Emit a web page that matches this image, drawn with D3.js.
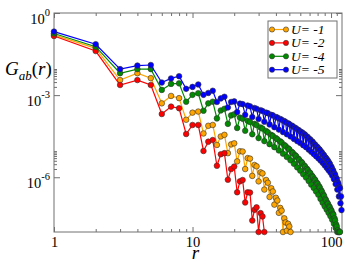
<!DOCTYPE html>
<html>
<head>
<meta charset="utf-8">
<script src="https://cdn.jsdelivr.net/npm/d3@7"></script>
<style>
    body { margin: 0; background: #fff; }
    svg { display: block; }
    svg text { font-family: "Liberation Serif", "Times New Roman", "DejaVu Serif", serif; }
    .axis path { display: none; }
    .axis line { stroke: #707070; }
    .axis text { font-family: "Liberation Serif", "Times New Roman", "DejaVu Serif", serif; font-size: 14.5px; fill: #000; }
</style>
</head>
<body>
<div class="chart"></div>
<script>
var SERIF = '"Liberation Serif", "Times New Roman", "DejaVu Serif", serif';

// legend / series
var seriesLabels = ["U= -1", "U= -2", "U= -4", "U= -5"];
var seriesColors = ["#ffa500", "#ff0000", "#008b00", "#0000ff"];

// log10 G_ab(r), starting at r = 1
var logG_U1 = [
    -0.80, -1.29, -2.45, -2.20, -2.38, -3.30, -3.03, -3.11, -3.90, -3.64,
    -3.60, -4.40, -4.12, -4.09, -4.82, -4.51, -4.45, -5.12, -4.80, -4.76,
    -5.42, -5.05, -5.06, -5.70, -5.30, -5.32, -5.95, -5.55, -5.60, -6.15,
    -5.82, -5.86, -6.45, -6.10, -6.20, -6.72, -6.40, -6.52, -7.00, -6.75,
    -6.85, -7.30, -7.12, -7.22, -8.00, -7.50, -7.65, -7.95, -7.70, -7.80,
    -8.00
];
var logG_U2 = [
    -0.84, -1.39, -2.63, -2.45, -2.63, -3.69, -3.42, -3.48, -4.42, -4.09,
    -4.09, -5.04, -4.70, -4.64, -5.58, -5.16, -5.12, -6.09, -5.70, -5.61,
    -6.55, -6.15, -6.10, -6.92, -6.55, -6.56, -7.58, -7.19, -7.10, -8.00,
    -7.31, -7.43, -8.00
];
var logG_U4 = [
    -0.75, -1.23, -2.20, -2.05, -2.05, -2.81, -2.59, -2.57, -3.24, -2.99,
    -2.93, -3.57, -3.30, -3.24, -3.85, -3.56, -3.50, -4.05, -3.74, -3.70,
    -4.20, -3.82, -3.86, -4.30, -3.94, -3.98, -4.43, -4.05, -4.09, -4.57,
    -4.18, -4.22, -4.68, -4.31, -4.36, -4.79, -4.45, -4.49, -4.90, -4.57,
    -4.61, -5.02, -4.69, -4.73, -5.14, -4.82, -4.86, -5.26, -4.94, -4.98,
    -5.38, -5.07, -5.11, -5.51, -5.19, -5.23, -5.64, -5.32, -5.36, -5.76,
    -5.44, -5.48, -5.89, -5.57, -5.61, -6.01, -5.69, -5.74, -6.14, -5.82,
    -5.86, -6.27, -5.95, -5.99, -6.39, -6.07, -6.11, -6.52, -6.20, -6.24,
    -6.64, -6.33, -6.38, -6.79, -6.48, -6.53, -6.93, -6.63, -6.68, -7.06,
    -6.79, -6.84, -7.18, -6.93, -6.97, -7.30, -7.06, -7.10, -7.42, -7.19,
    -7.24, -7.55, -7.33, -7.37, -7.70, -7.50, -7.58, -7.85, -7.73, -7.80,
    -8.00, -7.93, -8.00, -8.00, -8.00, -8.00
];
var logG_U5 = [
    -0.68, -1.14, -2.05, -1.92, -1.90, -2.54, -2.39, -2.31, -2.77, -2.70,
    -2.61, -2.99, -2.92, -2.84, -3.25, -3.12, -3.06, -3.45, -3.25, -3.23,
    -3.62, -3.31, -3.33, -3.72, -3.38, -3.41, -3.80, -3.47, -3.50, -3.87,
    -3.55, -3.58, -3.97, -3.64, -3.66, -4.07, -3.72, -3.74, -4.17, -3.80,
    -3.82, -4.26, -3.87, -3.90, -4.35, -3.95, -3.98, -4.43, -4.03, -4.06,
    -4.51, -4.11, -4.14, -4.60, -4.19, -4.22, -4.68, -4.27, -4.30, -4.75,
    -4.35, -4.37, -4.83, -4.42, -4.45, -4.90, -4.51, -4.54, -4.99, -4.60,
    -4.63, -5.07, -4.69, -4.72, -5.15, -4.79, -4.82, -5.23, -4.88, -4.91,
    -5.31, -4.97, -5.00, -5.39, -5.07, -5.10, -5.47, -5.17, -5.20, -5.56,
    -5.27, -5.30, -5.65, -5.36, -5.40, -5.74, -5.47, -5.51, -5.83, -5.60,
    -5.64, -5.94, -5.73, -5.78, -6.07, -5.87, -5.91, -6.25, -6.02, -6.07,
    -6.45, -6.18, -6.24, -6.70, -6.35, -6.40, -6.95, -6.70, -7.20
];

// ticks
var xMajor = [1, 10, 100];
var xMinor = [2, 3, 4, 5, 6, 7, 8, 9, 20, 30, 40, 50, 60, 70, 80, 90, 110];
var yMajor = [1, 1e-3, 1e-6];
var yMajorExp = ["0", "-3", "-6"];
var yMinor = [2e-3, 3e-3, 4e-3, 5e-3, 6e-3, 7e-3, 8e-3, 9e-3,
              2e-6, 3e-6, 4e-6, 5e-6, 6e-6, 7e-6, 8e-6, 9e-6];

var margin = { top: 13, right: 12, bottom: 42, left: 54 },
    width = 354 - margin.left - margin.right,
    height = 274 - margin.top - margin.bottom;

var svg = d3.select(".chart").append("svg")
    .attr("width", 354)
    .attr("height", 274)
    .append("g")
    .attr("transform", "translate(" + margin.left + "," + margin.top + ")");

var x = d3.scaleLog().domain([1, 120]).range([0, width]);
var y = d3.scaleLog().domain([1e-8, 1]).range([height, 0]);

// axes, ticks pointing inwards on all four sides
svg.append("g").attr("class", "axis")
    .attr("transform", "translate(0," + height + ")")
    .call(d3.axisBottom(x).tickValues(xMajor).tickSize(-5).tickPadding(5)
        .tickFormat(d3.format("d")))
    .attr("font-family", SERIF);
svg.append("g").attr("class", "axis")
    .attr("transform", "translate(0," + height + ")")
    .call(d3.axisBottom(x).tickValues(xMinor).tickSize(-3).tickFormat(""));
svg.append("g").attr("class", "axis")
    .call(d3.axisTop(x).tickValues(xMajor).tickSize(-5).tickFormat(""));
svg.append("g").attr("class", "axis")
    .call(d3.axisTop(x).tickValues(xMinor).tickSize(-3).tickFormat(""));

var yAxisLeft = svg.append("g").attr("class", "axis")
    .call(d3.axisLeft(y).tickValues(yMajor).tickSize(-6).tickFormat(""))
    .attr("font-family", SERIF);
svg.append("g").attr("class", "axis")
    .call(d3.axisLeft(y).tickValues(yMinor).tickSize(-3).tickFormat(""));
svg.append("g").attr("class", "axis")
    .attr("transform", "translate(" + width + ",0)")
    .call(d3.axisRight(y).tickValues(yMajor).tickSize(-6).tickFormat(""));
svg.append("g").attr("class", "axis")
    .attr("transform", "translate(" + width + ",0)")
    .call(d3.axisRight(y).tickValues(yMinor).tickSize(-3).tickFormat(""));

// y tick labels as 10^n
var yLab = yAxisLeft.selectAll(".tick").append("text")
    .attr("x", -4)
    .attr("y", 10)
    .attr("text-anchor", "end")
    .style("fill", "#000");
yLab.append("tspan").text("10");
yLab.append("tspan")
    .attr("dy", -8)
    .style("font-size", "10.5px")
    .text(function(d, i) { return yMajorExp[i]; });

svg.append("rect")
    .attr("width", width)
    .attr("height", height)
    .attr("fill", "none")
    .attr("stroke", "#707070")
    .attr("stroke-width", 1);

// series
var allSeries = [logG_U1, logG_U2, logG_U4, logG_U5].map(function(arr, i) {
    return {
        label: seriesLabels[i],
        color: seriesColors[i],
        points: arr.map(function(v, j) { return { r: j + 1, g: Math.pow(10, v) }; })
    };
});

var line = d3.line()
    .x(function(d) { return x(d.r); })
    .y(function(d) { return y(d.g); });

allSeries.forEach(function(s) {
    var g = svg.append("g");
    g.append("path")
        .datum(s.points)
        .attr("d", line)
        .attr("fill", "none")
        .attr("stroke", s.color)
        .attr("stroke-width", 1.2);
    g.selectAll("circle")
        .data(s.points)
        .enter().append("circle")
        .attr("cx", function(d) { return x(d.r); })
        .attr("cy", function(d) { return y(d.g); })
        .attr("r", 2.8)
        .attr("fill", s.color)
        .attr("stroke", "#333")
        .attr("stroke-width", 0.6);
});

// axis titles
svg.append("text")
    .attr("x", x(10) + 3)
    .attr("y", height + 27)
    .attr("text-anchor", "middle")
    .style("font-family", SERIF)
    .style("font-size", "19px")
    .style("font-style", "italic")
    .text("r");

var yTitle = svg.append("text")
    .attr("x", 5 - margin.left)
    .attr("y", 75 - margin.top)
    .style("font-family", SERIF)
    .style("font-size", "19px");
yTitle.append("tspan").style("font-style", "italic").text("G");
yTitle.append("tspan").attr("dy", 5).style("font-style", "italic").style("font-size", "13px").text("ab");
yTitle.append("tspan").attr("dy", -5).text("(");
yTitle.append("tspan").style("font-style", "italic").text("r");
yTitle.append("tspan").text(")");

// legend
var legend = svg.append("g")
    .attr("transform", "translate(" + (268 - margin.left) + "," + (21 - margin.top) + ")");

legend.append("rect")
    .attr("width", 69)
    .attr("height", 57)
    .attr("fill", "#fff")
    .attr("stroke", "#707070")
    .attr("stroke-width", 1);

var item = legend.selectAll(".item")
    .data(allSeries)
    .enter().append("g")
    .attr("class", "item")
    .attr("transform", function(d, i) { return "translate(0," + (8.5 + i * 13.4) + ")"; });

item.append("line")
    .attr("x1", 4).attr("x2", 18)
    .attr("stroke", function(d) { return d.color; })
    .attr("stroke-width", 1.2);
item.selectAll("circle")
    .data(function(d) { return [d, d]; })
    .enter().append("circle")
    .attr("cx", function(d, i) { return i ? 18 : 4; })
    .attr("r", 2.6)
    .attr("fill", function(d) { return d.color; })
    .attr("stroke", "#333")
    .attr("stroke-width", 0.6);
item.append("text")
    .attr("x", 23)
    .attr("y", 4.5)
    .style("font-family", SERIF)
    .style("font-size", "13.5px")
    .style("font-style", "italic")
    .text(function(d) { return d.label; });
</script>
</body>
</html>
